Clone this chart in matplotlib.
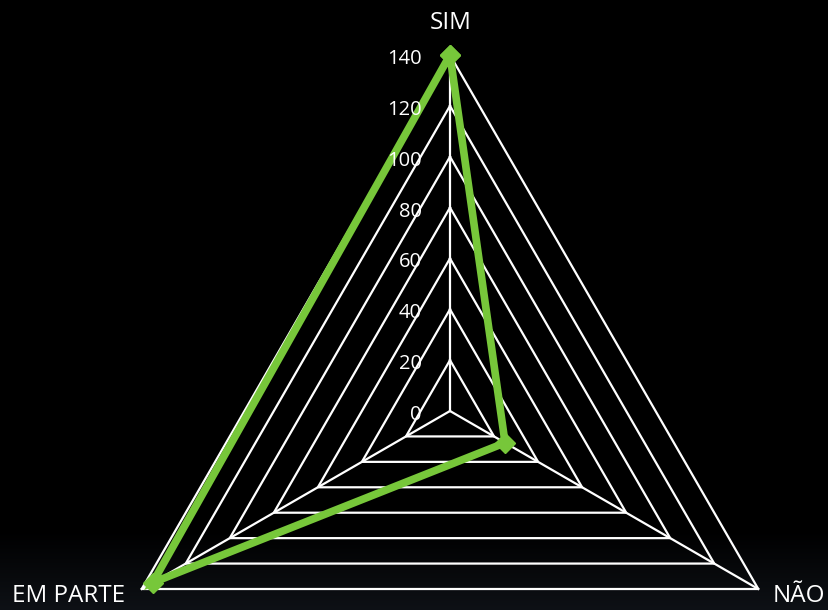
import numpy as np
import matplotlib
matplotlib.use("Agg")
import matplotlib.pyplot as plt

categories = ["SIM", "NÃO", "EM PARTE"]
values = [140, 25, 135]
levels = [0, 20, 40, 60, 80, 100, 120, 140]
rmax = 140

W, H = 829, 610
fig = plt.figure(figsize=(W / 100, H / 100), dpi=100, facecolor="black")

# background with subtle bottom gradient
bg = fig.add_axes([0, 0, 1, 1], zorder=-10)
grad = np.zeros((H, 1, 3))
ys = np.arange(H)
t = np.clip((ys - 530) / (H - 530), 0, 1)
col = np.array([14, 17, 22]) / 255.0
grad[:, 0, :] = t[:, None] * col[None, :]
bg.imshow(grad, aspect="auto", extent=[0, 1, 0, 1], origin="upper")
bg.axis("off")

cx, cy, R = 450, 411, 356
ax = fig.add_axes([(cx - R) / W, (H - cy - R) / H, 2 * R / W, 2 * R / H],
                  projection="polar")
ax.set_facecolor("none")
ax.set_theta_offset(np.pi / 2)
ax.set_theta_direction(-1)
ax.set_ylim(0, rmax)
ax.grid(False)
ax.set_xticks([])
ax.set_yticks([])
ax.spines["polar"].set_visible(False)

n = len(categories)
angles = np.arange(n) * 2 * np.pi / n
closed = np.concatenate([angles, angles[:1]])

for lv in levels[1:]:
    ax.plot(closed, [lv] * (n + 1), color="white", lw=1.6, clip_on=False, zorder=2)
for a in angles:
    ax.plot([a, a], [0, rmax], color="white", lw=1.6, clip_on=False, zorder=2)

vals = values + values[:1]
ax.plot(closed, vals, color="#77c73a", lw=5.5, marker="D", markersize=10,
        clip_on=False, zorder=5, solid_joinstyle="miter")

# radial tick labels
for lv in levels:
    ax.annotate(str(lv), xy=(0, lv), xytext=(-28, -4), textcoords="offset pixels",
                ha="right", va="center", color="white", fontsize=14.5,
                family="Open Sans", annotation_clip=False, zorder=6)

# category labels
label_pos = {"SIM": (451, 23, "center"), "NÃO": (773, 596, "left"),
             "EM PARTE": (12, 596, "left")}
for c in categories:
    x, y, ha = label_pos[c]
    fig.text(x / W, 1 - y / H, c, ha=ha, va="center", color="white",
             fontsize=17.5, family="Open Sans")

fig.savefig("out.png", dpi=100, facecolor="black")
